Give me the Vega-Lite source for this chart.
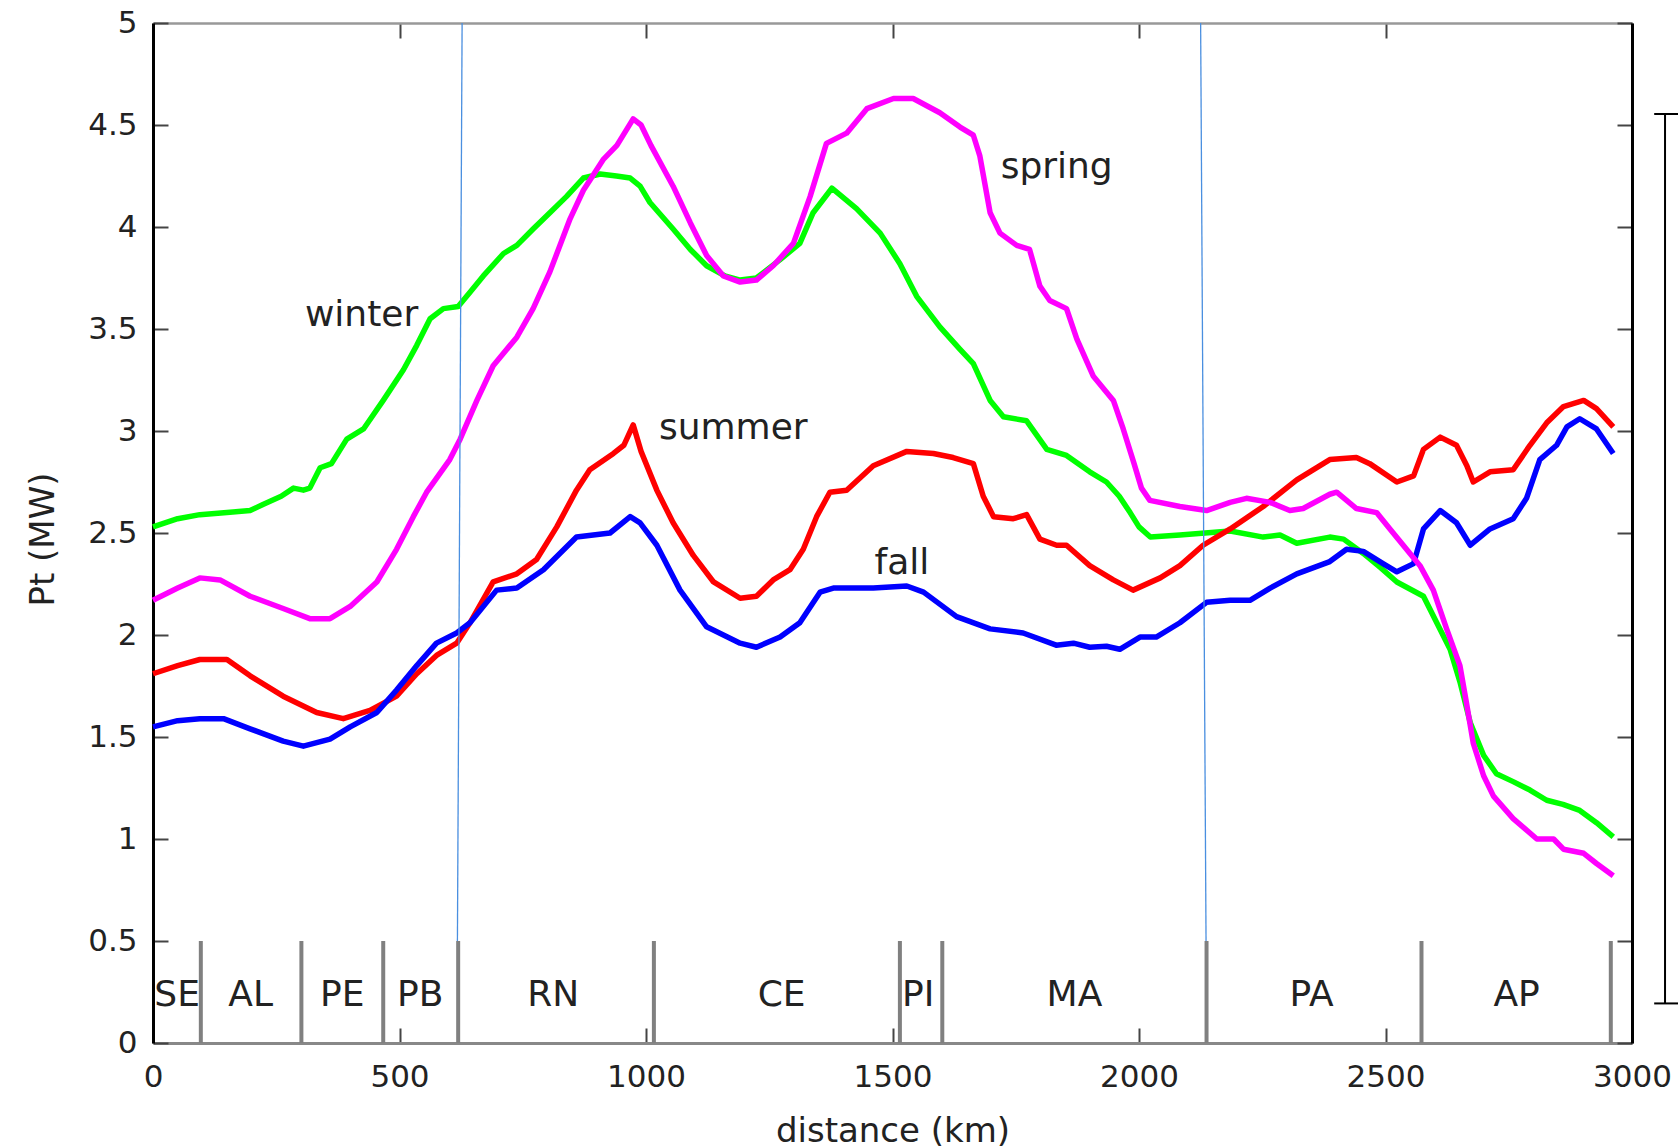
{
  "$schema": "https://vega.github.io/schema/vega-lite/v6.json",
  "width": 1479,
  "height": 1020,
  "autosize": {"type": "none"},
  "padding": {"left": 153, "top": 23, "right": 46, "bottom": 105},
  "background": "white",
  "config": {
    "view": {"stroke": null},
    "font": "DejaVu Sans",
    "axis": {"labelFont": "DejaVu Sans", "titleFont": "DejaVu Sans", "grid": false},
    "text": {"font": "DejaVu Sans"}
  },
  "datasets": {
    "curves": [
      {"s":"winter","km":0,"pt":2.53},{"s":"winter","km":50,"pt":2.57},{"s":"winter","km":95,"pt":2.59},{"s":"winter","km":150,"pt":2.6},{"s":"winter","km":197,"pt":2.61},{"s":"winter","km":223,"pt":2.64},{"s":"winter","km":260,"pt":2.68},{"s":"winter","km":285,"pt":2.72},{"s":"winter","km":305,"pt":2.71},{"s":"winter","km":318,"pt":2.72},{"s":"winter","km":339,"pt":2.82},{"s":"winter","km":362,"pt":2.84},{"s":"winter","km":393,"pt":2.96},{"s":"winter","km":427,"pt":3.01},{"s":"winter","km":467,"pt":3.15},{"s":"winter","km":508,"pt":3.3},{"s":"winter","km":535,"pt":3.42},{"s":"winter","km":562,"pt":3.55},{"s":"winter","km":589,"pt":3.6},{"s":"winter","km":619,"pt":3.61},{"s":"winter","km":643,"pt":3.68},{"s":"winter","km":670,"pt":3.76},{"s":"winter","km":711,"pt":3.87},{"s":"winter","km":738,"pt":3.91},{"s":"winter","km":771,"pt":3.99},{"s":"winter","km":805,"pt":4.07},{"s":"winter","km":839,"pt":4.15},{"s":"winter","km":873,"pt":4.24},{"s":"winter","km":907,"pt":4.26},{"s":"winter","km":940,"pt":4.25},{"s":"winter","km":968,"pt":4.24},{"s":"winter","km":988,"pt":4.2},{"s":"winter","km":1008,"pt":4.12},{"s":"winter","km":1055,"pt":3.99},{"s":"winter","km":1090,"pt":3.89},{"s":"winter","km":1123,"pt":3.81},{"s":"winter","km":1160,"pt":3.76},{"s":"winter","km":1191,"pt":3.74},{"s":"winter","km":1224,"pt":3.75},{"s":"winter","km":1272,"pt":3.84},{"s":"winter","km":1312,"pt":3.92},{"s":"winter","km":1339,"pt":4.07},{"s":"winter","km":1377,"pt":4.19},{"s":"winter","km":1427,"pt":4.09},{"s":"winter","km":1475,"pt":3.97},{"s":"winter","km":1515,"pt":3.82},{"s":"winter","km":1549,"pt":3.66},{"s":"winter","km":1596,"pt":3.51},{"s":"winter","km":1637,"pt":3.4},{"s":"winter","km":1664,"pt":3.33},{"s":"winter","km":1698,"pt":3.15},{"s":"winter","km":1725,"pt":3.07},{"s":"winter","km":1772,"pt":3.05},{"s":"winter","km":1813,"pt":2.91},{"s":"winter","km":1853,"pt":2.88},{"s":"winter","km":1900,"pt":2.8},{"s":"winter","km":1934,"pt":2.75},{"s":"winter","km":1960,"pt":2.68},{"s":"winter","km":1982,"pt":2.6},{"s":"winter","km":2000,"pt":2.53},{"s":"winter","km":2023,"pt":2.48},{"s":"winter","km":2083,"pt":2.49},{"s":"winter","km":2185,"pt":2.51},{"s":"winter","km":2252,"pt":2.48},{"s":"winter","km":2286,"pt":2.49},{"s":"winter","km":2320,"pt":2.45},{"s":"winter","km":2387,"pt":2.48},{"s":"winter","km":2415,"pt":2.47},{"s":"winter","km":2455,"pt":2.4},{"s":"winter","km":2490,"pt":2.33},{"s":"winter","km":2523,"pt":2.26},{"s":"winter","km":2577,"pt":2.19},{"s":"winter","km":2604,"pt":2.06},{"s":"winter","km":2631,"pt":1.93},{"s":"winter","km":2651,"pt":1.77},{"s":"winter","km":2672,"pt":1.57},{"s":"winter","km":2699,"pt":1.41},{"s":"winter","km":2725,"pt":1.32},{"s":"winter","km":2760,"pt":1.28},{"s":"winter","km":2793,"pt":1.24},{"s":"winter","km":2827,"pt":1.19},{"s":"winter","km":2860,"pt":1.17},{"s":"winter","km":2894,"pt":1.14},{"s":"winter","km":2928,"pt":1.08},{"s":"winter","km":2962,"pt":1.01},

      {"s":"summer","km":0,"pt":1.81},{"s":"summer","km":50,"pt":1.85},{"s":"summer","km":95,"pt":1.88},{"s":"summer","km":150,"pt":1.88},{"s":"summer","km":197,"pt":1.8},{"s":"summer","km":264,"pt":1.7},{"s":"summer","km":332,"pt":1.62},{"s":"summer","km":386,"pt":1.59},{"s":"summer","km":440,"pt":1.63},{"s":"summer","km":494,"pt":1.7},{"s":"summer","km":535,"pt":1.81},{"s":"summer","km":575,"pt":1.9},{"s":"summer","km":616,"pt":1.96},{"s":"summer","km":643,"pt":2.06},{"s":"summer","km":690,"pt":2.26},{"s":"summer","km":738,"pt":2.3},{"s":"summer","km":778,"pt":2.37},{"s":"summer","km":819,"pt":2.53},{"s":"summer","km":859,"pt":2.71},{"s":"summer","km":886,"pt":2.81},{"s":"summer","km":934,"pt":2.89},{"s":"summer","km":955,"pt":2.93},{"s":"summer","km":974,"pt":3.03},{"s":"summer","km":990,"pt":2.9},{"s":"summer","km":1022,"pt":2.71},{"s":"summer","km":1055,"pt":2.55},{"s":"summer","km":1096,"pt":2.39},{"s":"summer","km":1137,"pt":2.26},{"s":"summer","km":1191,"pt":2.18},{"s":"summer","km":1224,"pt":2.19},{"s":"summer","km":1258,"pt":2.27},{"s":"summer","km":1292,"pt":2.32},{"s":"summer","km":1319,"pt":2.42},{"s":"summer","km":1346,"pt":2.58},{"s":"summer","km":1373,"pt":2.7},{"s":"summer","km":1407,"pt":2.71},{"s":"summer","km":1461,"pt":2.83},{"s":"summer","km":1529,"pt":2.9},{"s":"summer","km":1583,"pt":2.89},{"s":"summer","km":1623,"pt":2.87},{"s":"summer","km":1664,"pt":2.84},{"s":"summer","km":1684,"pt":2.68},{"s":"summer","km":1705,"pt":2.58},{"s":"summer","km":1745,"pt":2.57},{"s":"summer","km":1772,"pt":2.59},{"s":"summer","km":1799,"pt":2.47},{"s":"summer","km":1833,"pt":2.44},{"s":"summer","km":1853,"pt":2.44},{"s":"summer","km":1900,"pt":2.34},{"s":"summer","km":1948,"pt":2.27},{"s":"summer","km":1988,"pt":2.22},{"s":"summer","km":2043,"pt":2.28},{"s":"summer","km":2083,"pt":2.34},{"s":"summer","km":2130,"pt":2.44},{"s":"summer","km":2185,"pt":2.52},{"s":"summer","km":2252,"pt":2.63},{"s":"summer","km":2320,"pt":2.76},{"s":"summer","km":2387,"pt":2.86},{"s":"summer","km":2441,"pt":2.87},{"s":"summer","km":2468,"pt":2.84},{"s":"summer","km":2523,"pt":2.75},{"s":"summer","km":2557,"pt":2.78},{"s":"summer","km":2577,"pt":2.91},{"s":"summer","km":2611,"pt":2.97},{"s":"summer","km":2644,"pt":2.93},{"s":"summer","km":2665,"pt":2.83},{"s":"summer","km":2678,"pt":2.75},{"s":"summer","km":2712,"pt":2.8},{"s":"summer","km":2759,"pt":2.81},{"s":"summer","km":2793,"pt":2.93},{"s":"summer","km":2827,"pt":3.04},{"s":"summer","km":2861,"pt":3.12},{"s":"summer","km":2902,"pt":3.15},{"s":"summer","km":2928,"pt":3.11},{"s":"summer","km":2962,"pt":3.02},

      {"s":"fall","km":0,"pt":1.55},{"s":"fall","km":50,"pt":1.58},{"s":"fall","km":95,"pt":1.59},{"s":"fall","km":143,"pt":1.59},{"s":"fall","km":197,"pt":1.54},{"s":"fall","km":264,"pt":1.48},{"s":"fall","km":305,"pt":1.455},{"s":"fall","km":359,"pt":1.49},{"s":"fall","km":400,"pt":1.55},{"s":"fall","km":454,"pt":1.62},{"s":"fall","km":494,"pt":1.73},{"s":"fall","km":535,"pt":1.85},{"s":"fall","km":575,"pt":1.96},{"s":"fall","km":616,"pt":2.01},{"s":"fall","km":643,"pt":2.06},{"s":"fall","km":697,"pt":2.22},{"s":"fall","km":738,"pt":2.23},{"s":"fall","km":792,"pt":2.32},{"s":"fall","km":859,"pt":2.48},{"s":"fall","km":927,"pt":2.5},{"s":"fall","km":968,"pt":2.58},{"s":"fall","km":988,"pt":2.55},{"s":"fall","km":1022,"pt":2.44},{"s":"fall","km":1069,"pt":2.22},{"s":"fall","km":1123,"pt":2.04},{"s":"fall","km":1191,"pt":1.96},{"s":"fall","km":1224,"pt":1.94},{"s":"fall","km":1272,"pt":1.99},{"s":"fall","km":1312,"pt":2.06},{"s":"fall","km":1353,"pt":2.21},{"s":"fall","km":1380,"pt":2.23},{"s":"fall","km":1461,"pt":2.23},{"s":"fall","km":1529,"pt":2.24},{"s":"fall","km":1563,"pt":2.21},{"s":"fall","km":1630,"pt":2.09},{"s":"fall","km":1698,"pt":2.03},{"s":"fall","km":1765,"pt":2.01},{"s":"fall","km":1832,"pt":1.95},{"s":"fall","km":1867,"pt":1.96},{"s":"fall","km":1900,"pt":1.94},{"s":"fall","km":1934,"pt":1.945},{"s":"fall","km":1961,"pt":1.93},{"s":"fall","km":2002,"pt":1.99},{"s":"fall","km":2035,"pt":1.99},{"s":"fall","km":2083,"pt":2.06},{"s":"fall","km":2137,"pt":2.16},{"s":"fall","km":2185,"pt":2.17},{"s":"fall","km":2225,"pt":2.17},{"s":"fall","km":2266,"pt":2.23},{"s":"fall","km":2320,"pt":2.3},{"s":"fall","km":2387,"pt":2.36},{"s":"fall","km":2421,"pt":2.42},{"s":"fall","km":2455,"pt":2.41},{"s":"fall","km":2495,"pt":2.35},{"s":"fall","km":2523,"pt":2.31},{"s":"fall","km":2557,"pt":2.35},{"s":"fall","km":2577,"pt":2.52},{"s":"fall","km":2611,"pt":2.61},{"s":"fall","km":2644,"pt":2.55},{"s":"fall","km":2672,"pt":2.44},{"s":"fall","km":2712,"pt":2.52},{"s":"fall","km":2759,"pt":2.57},{"s":"fall","km":2786,"pt":2.67},{"s":"fall","km":2813,"pt":2.86},{"s":"fall","km":2847,"pt":2.93},{"s":"fall","km":2868,"pt":3.02},{"s":"fall","km":2894,"pt":3.06},{"s":"fall","km":2928,"pt":3.01},{"s":"fall","km":2962,"pt":2.89},

      {"s":"spring","km":0,"pt":2.17},{"s":"spring","km":50,"pt":2.23},{"s":"spring","km":95,"pt":2.28},{"s":"spring","km":136,"pt":2.27},{"s":"spring","km":197,"pt":2.19},{"s":"spring","km":264,"pt":2.13},{"s":"spring","km":318,"pt":2.08},{"s":"spring","km":359,"pt":2.08},{"s":"spring","km":400,"pt":2.14},{"s":"spring","km":454,"pt":2.26},{"s":"spring","km":494,"pt":2.42},{"s":"spring","km":528,"pt":2.58},{"s":"spring","km":555,"pt":2.7},{"s":"spring","km":602,"pt":2.86},{"s":"spring","km":623,"pt":2.96},{"s":"spring","km":657,"pt":3.15},{"s":"spring","km":690,"pt":3.32},{"s":"spring","km":738,"pt":3.46},{"s":"spring","km":771,"pt":3.6},{"s":"spring","km":805,"pt":3.78},{"s":"spring","km":846,"pt":4.04},{"s":"spring","km":873,"pt":4.18},{"s":"spring","km":913,"pt":4.33},{"s":"spring","km":941,"pt":4.4},{"s":"spring","km":974,"pt":4.53},{"s":"spring","km":990,"pt":4.5},{"s":"spring","km":1010,"pt":4.4},{"s":"spring","km":1055,"pt":4.2},{"s":"spring","km":1090,"pt":4.02},{"s":"spring","km":1123,"pt":3.86},{"s":"spring","km":1157,"pt":3.76},{"s":"spring","km":1191,"pt":3.73},{"s":"spring","km":1224,"pt":3.74},{"s":"spring","km":1258,"pt":3.81},{"s":"spring","km":1299,"pt":3.92},{"s":"spring","km":1333,"pt":4.15},{"s":"spring","km":1366,"pt":4.41},{"s":"spring","km":1407,"pt":4.46},{"s":"spring","km":1448,"pt":4.58},{"s":"spring","km":1502,"pt":4.63},{"s":"spring","km":1542,"pt":4.63},{"s":"spring","km":1596,"pt":4.56},{"s":"spring","km":1637,"pt":4.49},{"s":"spring","km":1664,"pt":4.45},{"s":"spring","km":1677,"pt":4.35},{"s":"spring","km":1698,"pt":4.07},{"s":"spring","km":1718,"pt":3.97},{"s":"spring","km":1752,"pt":3.91},{"s":"spring","km":1778,"pt":3.89},{"s":"spring","km":1799,"pt":3.71},{"s":"spring","km":1819,"pt":3.64},{"s":"spring","km":1853,"pt":3.6},{"s":"spring","km":1874,"pt":3.45},{"s":"spring","km":1907,"pt":3.27},{"s":"spring","km":1948,"pt":3.15},{"s":"spring","km":1968,"pt":3.01},{"s":"spring","km":1990,"pt":2.84},{"s":"spring","km":2005,"pt":2.72},{"s":"spring","km":2022,"pt":2.66},{"s":"spring","km":2083,"pt":2.63},{"s":"spring","km":2137,"pt":2.61},{"s":"spring","km":2185,"pt":2.65},{"s":"spring","km":2218,"pt":2.67},{"s":"spring","km":2266,"pt":2.65},{"s":"spring","km":2306,"pt":2.61},{"s":"spring","km":2333,"pt":2.62},{"s":"spring","km":2387,"pt":2.69},{"s":"spring","km":2401,"pt":2.7},{"s":"spring","km":2441,"pt":2.62},{"s":"spring","km":2482,"pt":2.6},{"s":"spring","km":2509,"pt":2.52},{"s":"spring","km":2536,"pt":2.44},{"s":"spring","km":2570,"pt":2.34},{"s":"spring","km":2597,"pt":2.22},{"s":"spring","km":2624,"pt":2.03},{"s":"spring","km":2651,"pt":1.85},{"s":"spring","km":2664,"pt":1.67},{"s":"spring","km":2678,"pt":1.47},{"s":"spring","km":2699,"pt":1.31},{"s":"spring","km":2719,"pt":1.21},{"s":"spring","km":2759,"pt":1.1},{"s":"spring","km":2807,"pt":1.0},{"s":"spring","km":2841,"pt":1.0},{"s":"spring","km":2861,"pt":0.95},{"s":"spring","km":2902,"pt":0.93},{"s":"spring","km":2928,"pt":0.88},{"s":"spring","km":2962,"pt":0.82}
    ],
    "dividers": [
      {"km": 97}, {"km": 301}, {"km": 467}, {"km": 619}, {"km": 1016}, {"km": 1515}, {"km": 1601}, {"km": 2137}, {"km": 2573}, {"km": 2957}
    ],
    "regions": [
      {"region": "SE", "km": 49}, {"region": "AL", "km": 198}, {"region": "PE", "km": 384}, {"region": "PB", "km": 542},
      {"region": "RN", "km": 812}, {"region": "CE", "km": 1275}, {"region": "PI", "km": 1552}, {"region": "MA", "km": 1869},
      {"region": "PA", "km": 2350}, {"region": "AP", "km": 2766}
    ],
    "seasonLabels": [
      {"label": "winter", "km": 423, "pt": 3.515},
      {"label": "spring", "km": 1833, "pt": 4.24},
      {"label": "summer", "km": 1177, "pt": 2.96},
      {"label": "fall", "km": 1519, "pt": 2.3}
    ],
    "boundaries": [
      {"xa": 627, "xb": 617.5, "ya": 5, "yb": 0.5},
      {"xa": 2125, "xb": 2136, "ya": 5, "yb": 0.5}
    ],
    "bar": [
      {"xa": 3067, "xb": 3067, "ya": 0.194, "yb": 4.554},
      {"xa": 3045, "xb": 3100, "ya": 4.554, "yb": 4.554},
      {"xa": 3045, "xb": 3100, "ya": 0.194, "yb": 0.194}
    ]
  },
  "layer": [
    {
      "data": {"name": "curves"},
      "mark": {"type": "line", "strokeWidth": 5.5, "strokeJoin": "round", "strokeCap": "butt"},
      "encoding": {
        "x": {
          "field": "km", "type": "quantitative",
          "scale": {"domain": [0, 3000], "nice": false, "zero": false},
          "axis": {
            "orient": "bottom", "values": [0, 500, 1000, 1500, 2000, 2500, 3000], "format": "d",
            "title": "distance (km)", "tickSize": -15, "tickWidth": 2, "tickColor": "#444",
            "labelPadding": 34, "labelFontSize": 31, "labelColor": "#222", "labelFlush": false, "labelOverlap": false,
            "domainColor": "#888", "domainWidth": 3,
            "titleFontSize": 34, "titleFontWeight": "normal", "titleColor": "#222",
            "titleY": 98, "titleBaseline": "alphabetic"
          }
        },
        "y": {
          "field": "pt", "type": "quantitative",
          "scale": {"domain": [0, 5], "nice": false, "zero": false},
          "axis": {
            "orient": "left", "values": [0, 0.5, 1, 1.5, 2, 2.5, 3, 3.5, 4, 4.5, 5], "format": "~g",
            "title": "Pt (MW)", "tickSize": -15, "tickWidth": 2, "tickColor": "#444",
            "labelPadding": 31, "labelFontSize": 31, "labelColor": "#222", "labelOverlap": false,
            "domainColor": "#000", "domainWidth": 3,
            "titleFontSize": 34, "titleFontWeight": "normal", "titleColor": "#222",
            "titleX": -110, "titleY": 516, "titleBaseline": "middle", "titleAlign": "center"
          }
        },
        "color": {
          "field": "s", "type": "nominal", "legend": null,
          "scale": {"domain": ["winter", "summer", "fall", "spring"], "range": ["#00ff00", "#ff0000", "#0000ff", "#ff00ff"]}
        }
      }
    },
    {
      "data": {"name": "boundaries"},
      "mark": {"type": "rule", "color": "#4a8fe0", "strokeWidth": 1.3},
      "encoding": {
        "x": {
          "field": "xa", "type": "quantitative",
          "axis": {
            "orient": "top", "values": [0, 500, 1000, 1500, 2000, 2500, 3000], "labels": false, "title": null,
            "tickSize": -15, "tickWidth": 2, "tickColor": "#444", "domainColor": "#999", "domainWidth": 2.5
          }
        },
        "x2": {"field": "xb"},
        "y": {
          "field": "ya", "type": "quantitative",
          "axis": {
            "orient": "right", "values": [0, 0.5, 1, 1.5, 2, 2.5, 3, 3.5, 4, 4.5, 5], "labels": false, "title": null,
            "tickSize": -15, "tickWidth": 2, "tickColor": "#444", "domainColor": "#000", "domainWidth": 3
          }
        },
        "y2": {"field": "yb"}
      }
    },
    {
      "data": {"name": "dividers"},
      "mark": {"type": "rule", "color": "#808080", "strokeWidth": 4},
      "encoding": {
        "x": {"field": "km", "type": "quantitative", "axis": null},
        "y": {"datum": 0, "type": "quantitative", "axis": null},
        "y2": {"datum": 0.5}
      }
    },
    {
      "data": {"name": "regions"},
      "mark": {"type": "text", "fontSize": 36, "color": "#222", "align": "center", "baseline": "alphabetic"},
      "encoding": {
        "x": {"field": "km", "type": "quantitative", "axis": null},
        "y": {"datum": 0.18, "type": "quantitative", "axis": null},
        "text": {"field": "region"}
      }
    },
    {
      "data": {"name": "seasonLabels"},
      "mark": {"type": "text", "fontSize": 36, "color": "#222", "align": "center", "baseline": "alphabetic"},
      "encoding": {
        "x": {"field": "km", "type": "quantitative", "axis": null},
        "y": {"field": "pt", "type": "quantitative", "axis": null},
        "text": {"field": "label"}
      }
    },
    {
      "data": {"name": "bar"},
      "mark": {"type": "rule", "color": "#000", "strokeWidth": 2, "clip": false},
      "encoding": {
        "x": {"field": "xa", "type": "quantitative", "axis": null},
        "x2": {"field": "xb"},
        "y": {"field": "ya", "type": "quantitative", "axis": null},
        "y2": {"field": "yb"}
      }
    }
  ]
}
